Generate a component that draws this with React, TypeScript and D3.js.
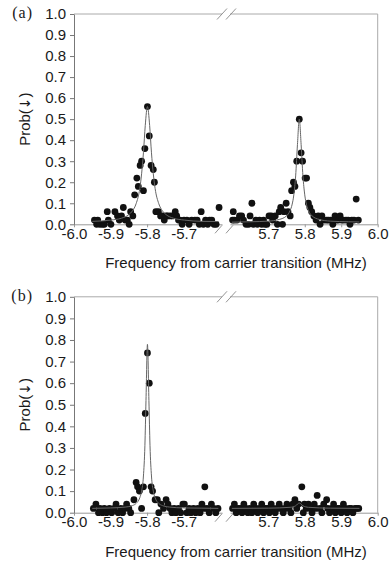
import React, { useRef, useEffect, useCallback } from 'react';
import * as d3 from 'd3';

type Pt = [number, number];

// axis values
const yTicks = [0, 0.1, 0.2, 0.3, 0.4, 0.5, 0.6, 0.7, 0.8, 0.9, 1.0];
const xTicksLeft = [-6.0, -5.9, -5.8, -5.7];
const xTicksRight = [5.7, 5.8, 5.9, 6.0];
const xDomainLeft: Pt = [-6.0, -5.595];
const xDomainRight: Pt = [5.595, 6.0];

// panel (a) measurements, [frequency MHz, probability]
const aLeftPoints: Pt[] = [
  [-5.944, 0.02], [-5.938, 0.0], [-5.935, 0.02], [-5.929, 0.0], [-5.922, 0.0], [-5.917, 0.0],
  [-5.909, 0.06], [-5.906, 0.02], [-5.899, 0.0], [-5.888, 0.06], [-5.881, 0.04], [-5.876, 0.02],
  [-5.870, 0.04], [-5.865, 0.08], [-5.860, 0.02], [-5.854, 0.02], [-5.849, 0.0], [-5.845, 0.06],
  [-5.839, 0.04], [-5.834, 0.14], [-5.828, 0.22], [-5.824, 0.18], [-5.819, 0.28], [-5.815, 0.30],
  [-5.810, 0.16], [-5.806, 0.36], [-5.799, 0.56], [-5.794, 0.42], [-5.789, 0.28], [-5.783, 0.26],
  [-5.780, 0.20], [-5.776, 0.06], [-5.769, 0.06], [-5.763, 0.04], [-5.757, 0.04], [-5.753, 0.02],
  [-5.748, 0.04], [-5.744, 0.04], [-5.737, 0.04], [-5.730, 0.04], [-5.723, 0.06], [-5.719, 0.04],
  [-5.714, 0.02], [-5.710, 0.02], [-5.704, 0.0], [-5.699, 0.02], [-5.691, 0.02], [-5.685, 0.0],
  [-5.678, 0.02], [-5.669, 0.02], [-5.663, 0.02], [-5.657, 0.0], [-5.652, 0.06], [-5.646, 0.0],
  [-5.640, 0.02], [-5.634, 0.0], [-5.629, 0.02], [-5.623, 0.02], [-5.617, 0.0], [-5.611, 0.0],
  [-5.603, 0.08],
];
const aRightPoints: Pt[] = [
  [5.602, 0.02], [5.604, 0.06], [5.607, 0.02], [5.614, 0.02], [5.621, 0.04], [5.627, 0.04],
  [5.632, 0.02], [5.639, 0.0], [5.646, 0.0], [5.650, 0.04], [5.655, 0.10], [5.659, 0.0],
  [5.666, 0.02], [5.670, 0.0], [5.676, 0.02], [5.682, 0.0], [5.687, 0.02], [5.691, 0.0],
  [5.696, 0.0], [5.702, 0.04], [5.708, 0.04], [5.712, 0.02], [5.719, 0.04], [5.725, 0.0],
  [5.730, 0.06], [5.734, 0.08], [5.739, 0.0], [5.743, 0.06], [5.749, 0.10], [5.754, 0.06],
  [5.760, 0.04], [5.764, 0.16], [5.769, 0.20], [5.773, 0.18], [5.778, 0.30], [5.785, 0.50],
  [5.790, 0.34], [5.794, 0.30], [5.801, 0.22], [5.805, 0.22], [5.810, 0.10], [5.814, 0.08],
  [5.819, 0.06], [5.825, 0.04], [5.831, 0.02], [5.837, 0.04], [5.842, 0.0], [5.847, 0.04],
  [5.853, 0.02], [5.860, 0.02], [5.865, 0.02], [5.871, 0.02], [5.877, 0.0], [5.883, 0.04],
  [5.887, 0.02], [5.892, 0.02], [5.897, 0.04], [5.901, 0.02], [5.906, 0.02], [5.913, 0.02],
  [5.919, 0.02], [5.924, 0.0], [5.929, 0.02], [5.935, 0.02], [5.941, 0.12], [5.947, 0.02],
];
// fitted line
const aLeftFit: Pt[] = [
  [-5.95, 0.014], [-5.90, 0.02], [-5.87, 0.029], [-5.85, 0.046], [-5.84, 0.064], [-5.83, 0.098],
  [-5.82, 0.17], [-5.815, 0.24], [-5.81, 0.34], [-5.805, 0.47], [-5.799, 0.56], [-5.793, 0.47],
  [-5.788, 0.34], [-5.783, 0.24], [-5.778, 0.17], [-5.768, 0.098], [-5.758, 0.064], [-5.748, 0.046],
  [-5.728, 0.029], [-5.698, 0.02], [-5.65, 0.014], [-5.605, 0.013],
];
const aRightFit: Pt[] = [
  [5.60, 0.01], [5.65, 0.012], [5.70, 0.015], [5.73, 0.023], [5.75, 0.04], [5.76, 0.066],
  [5.765, 0.092], [5.77, 0.14], [5.775, 0.23], [5.78, 0.38], [5.785, 0.50], [5.79, 0.38],
  [5.795, 0.23], [5.80, 0.14], [5.805, 0.092], [5.81, 0.066], [5.82, 0.04], [5.84, 0.023],
  [5.87, 0.015], [5.92, 0.012], [5.95, 0.011],
];

// panel (b) measurements
const bLeftPoints: Pt[] = [
  [-5.947, 0.02], [-5.940, 0.04], [-5.933, 0.0], [-5.929, 0.02], [-5.922, 0.0], [-5.917, 0.02],
  [-5.911, 0.0], [-5.903, 0.02], [-5.897, 0.0], [-5.890, 0.02], [-5.885, 0.04], [-5.879, 0.0],
  [-5.872, 0.02], [-5.867, 0.0], [-5.861, 0.02], [-5.856, 0.04], [-5.850, 0.02], [-5.845, 0.0],
  [-5.836, 0.06], [-5.830, 0.14], [-5.826, 0.12], [-5.821, 0.10], [-5.815, 0.02], [-5.810, 0.12],
  [-5.805, 0.46], [-5.799, 0.74], [-5.794, 0.60], [-5.789, 0.12], [-5.785, 0.10], [-5.778, 0.06],
  [-5.772, 0.06], [-5.768, 0.0], [-5.762, 0.04], [-5.755, 0.02], [-5.748, 0.06], [-5.743, 0.04],
  [-5.737, 0.02], [-5.732, 0.0], [-5.726, 0.02], [-5.721, 0.0], [-5.714, 0.02], [-5.708, 0.0],
  [-5.702, 0.04], [-5.698, 0.04], [-5.691, 0.0], [-5.685, 0.02], [-5.680, 0.0], [-5.673, 0.02],
  [-5.667, 0.0], [-5.661, 0.02], [-5.655, 0.0], [-5.650, 0.04], [-5.645, 0.02], [-5.642, 0.12],
  [-5.636, 0.02], [-5.630, 0.0], [-5.624, 0.04], [-5.618, 0.02], [-5.612, 0.0], [-5.606, 0.02],
];
const bRightPoints: Pt[] = [
  [5.602, 0.02], [5.607, 0.04], [5.612, 0.0], [5.617, 0.02], [5.623, 0.02], [5.628, 0.0],
  [5.633, 0.04], [5.638, 0.02], [5.644, 0.0], [5.649, 0.02], [5.655, 0.0], [5.660, 0.04],
  [5.666, 0.02], [5.671, 0.0], [5.676, 0.02], [5.682, 0.04], [5.687, 0.0], [5.692, 0.02],
  [5.698, 0.02], [5.703, 0.0], [5.708, 0.04], [5.714, 0.02], [5.719, 0.0], [5.725, 0.02],
  [5.730, 0.04], [5.735, 0.02], [5.741, 0.0], [5.746, 0.02], [5.751, 0.04], [5.757, 0.02],
  [5.762, 0.0], [5.767, 0.04], [5.773, 0.06], [5.778, 0.02], [5.783, 0.04], [5.792, 0.12],
  [5.796, 0.0], [5.799, 0.04], [5.804, 0.02], [5.810, 0.04], [5.815, 0.02], [5.820, 0.0],
  [5.826, 0.04], [5.831, 0.02], [5.834, 0.08], [5.842, 0.02], [5.847, 0.0], [5.852, 0.04],
  [5.860, 0.06], [5.863, 0.02], [5.868, 0.0], [5.874, 0.02], [5.879, 0.04], [5.884, 0.0],
  [5.890, 0.02], [5.895, 0.02], [5.900, 0.0], [5.906, 0.04], [5.911, 0.02], [5.916, 0.0],
  [5.922, 0.02], [5.927, 0.02], [5.932, 0.0], [5.938, 0.02], [5.943, 0.02], [5.948, 0.02],
];
const bLeftFit: Pt[] = [
  [-5.95, 0.02], [-5.90, 0.022], [-5.86, 0.026], [-5.84, 0.033], [-5.83, 0.043], [-5.82, 0.069],
  [-5.815, 0.10], [-5.81, 0.17], [-5.806, 0.31], [-5.803, 0.52], [-5.799, 0.78], [-5.795, 0.52],
  [-5.792, 0.31], [-5.788, 0.17], [-5.783, 0.10], [-5.778, 0.069], [-5.768, 0.043], [-5.758, 0.033],
  [-5.738, 0.026], [-5.70, 0.022], [-5.65, 0.021], [-5.605, 0.02],
];
const bRightFit: Pt[] = [
  [5.60, 0.02], [5.70, 0.021], [5.76, 0.025], [5.775, 0.032], [5.785, 0.045], [5.795, 0.032],
  [5.81, 0.025], [5.87, 0.021], [5.95, 0.02],
];

const panels = [
  { label: '(a)', top: 14, bottom: 224.3, left: aLeftPoints, right: aRightPoints, leftFit: aLeftFit, rightFit: aRightFit },
  { label: '(b)', top: 296.8, bottom: 512.7, left: bLeftPoints, right: bRightPoints, leftFit: bLeftFit, rightFit: bRightFit },
];

const SANS = '"Liberation Sans", Arial, sans-serif';
const SERIF = '"Liberation Serif", "Times New Roman", serif';
const X0 = 74, BREAK_L = 222, BREAK_R = 230, X1 = 377.7;

const App = () => {
  const svgRef = useRef<SVGSVGElement>(null);

  const styleAxis = useCallback((g: any, color: string) => {
    g.select('.domain').attr('stroke', color);
    g.selectAll('.tick line').attr('stroke', color);
    g.selectAll('.tick text')
      .attr('fill', '#1a1a1a')
      .style('font-size', '15px')
      .style('font-family', SANS);
  }, []);

  const drawPanel = useCallback((svg: any, p: typeof panels[0]) => {
    const g = svg.append('g');
    const xL = d3.scaleLinear().domain(xDomainLeft).range([X0, BREAK_L]);
    const xR = d3.scaleLinear().domain(xDomainRight).range([BREAK_R, X1]);
    const y = d3.scaleLinear().domain([0, 1]).range([p.bottom, p.top]);

    // frame: top and right
    g.append('line').attr('x1', X0).attr('x2', BREAK_L).attr('y1', y(1)).attr('y2', y(1)).attr('stroke', '#aaa');
    g.append('line').attr('x1', BREAK_R).attr('x2', X1).attr('y1', y(1)).attr('y2', y(1)).attr('stroke', '#aaa');
    g.append('line').attr('x1', X1).attr('x2', X1).attr('y1', y(1)).attr('y2', y(0)).attr('stroke', '#aaa');

    // break marks
    [BREAK_L, BREAK_R + 1].forEach(bx => {
      g.append('line').attr('x1', bx - 5).attr('y1', y(1) + 5.5).attr('x2', bx + 5).attr('y2', y(1) - 5.5)
        .attr('stroke', '#888').attr('stroke-width', 0.9);
    });
    [BREAK_L, BREAK_R + 3].forEach(bx => {
      g.append('line').attr('x1', bx - 7).attr('y1', y(0) + 9).attr('x2', bx).attr('y2', y(0) + 1)
        .attr('stroke', '#888').attr('stroke-width', 0.9);
    });

    // bottom axes
    const axL = g.append('g').attr('transform', `translate(0,${y(0)})`)
      .call(d3.axisBottom(xL).tickValues(xTicksLeft).tickFormat((d: any) => d.toFixed(1)).tickSize(3).tickSizeOuter(0).tickPadding(1));
    styleAxis(axL, '#999');
    const axR = g.append('g').attr('transform', `translate(0,${y(0)})`)
      .call(d3.axisBottom(xR).tickValues(xTicksRight).tickFormat((d: any) => d.toFixed(1)).tickSize(3).tickSizeOuter(0).tickPadding(1));
    styleAxis(axR, '#999');

    // left axis
    const axY = g.append('g').attr('transform', `translate(${X0},0)`)
      .call(d3.axisLeft(y).tickValues(yTicks).tickFormat((d: any) => d.toFixed(1)).tickSize(4).tickSizeOuter(0).tickPadding(4));
    styleAxis(axY, '#777');

    // points and fitted line for each side of the break
    const sides = [
      { pts: p.left, fit: p.leftFit, x: xL },
      { pts: p.right, fit: p.rightFit, x: xR },
    ];
    sides.forEach(s => {
      g.append('g').selectAll('circle')
        .data(s.pts)
        .enter()
        .append('circle')
        .attr('cx', (d: Pt) => s.x(d[0]))
        .attr('cy', (d: Pt) => y(d[1]))
        .attr('r', 3.4)
        .attr('fill', '#111');
      const line = d3.line<Pt>()
        .x(d => s.x(d[0]))
        .y(d => y(d[1]))
        .curve(d3.curveMonotoneX);
      g.append('path')
        .attr('d', line(s.fit))
        .attr('fill', 'none')
        .attr('stroke', '#666')
        .attr('stroke-width', 1);
    });

    // labels
    g.append('text')
      .attr('x', 33).attr('y', p.top + 4)
      .attr('text-anchor', 'end')
      .style('font-family', SERIF).style('font-size', '16px').style('letter-spacing', '1px')
      .attr('fill', '#1a1a1a')
      .text(p.label);
    const yTitle = g.append('text')
      .attr('transform', `translate(30,${(p.top + p.bottom) / 2}) rotate(-90)`)
      .attr('text-anchor', 'middle')
      .style('font-family', SANS).style('font-size', '15px')
      .attr('fill', '#1a1a1a');
    yTitle.append('tspan').text('Prob(');
    yTitle.append('tspan').style('font-family', '"DejaVu Sans", sans-serif').style('font-size', '14px').text('↓');
    yTitle.append('tspan').text(')');
    g.append('text')
      .attr('x', 236).attr('y', y(0) + 44)
      .attr('text-anchor', 'middle')
      .style('font-family', SANS).style('font-size', '15px')
      .attr('fill', '#1a1a1a')
      .text('Frequency from carrier transition (MHz)');
  }, [styleAxis]);

  useEffect(() => {
    if (!svgRef.current) return;
    const svg = d3.select(svgRef.current);
    svg.selectAll('*').remove();
    panels.forEach(p => drawPanel(svg, p));
  }, [drawPanel]);

  return (
    <svg
      ref={svgRef}
      width={390}
      height={564}
      style={{ position: 'absolute', left: 0, top: 0, background: '#fff' }}
    />
  );
};

export default App;
